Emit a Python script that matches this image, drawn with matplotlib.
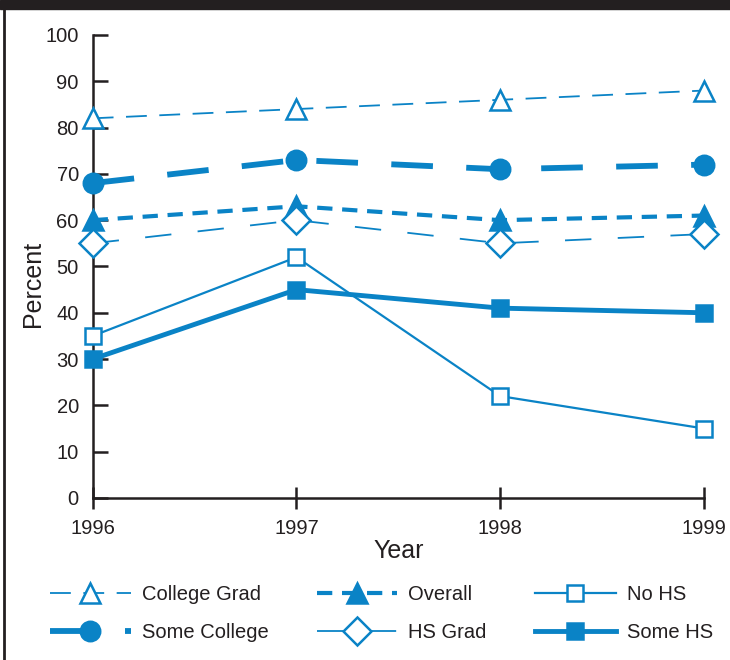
import matplotlib
matplotlib.use("Agg")
import matplotlib.pyplot as plt
from matplotlib.patches import Rectangle
from matplotlib.lines import Line2D

plt.rcParams["font.family"] = ["Liberation Sans", "DejaVu Sans"]
plt.rcParams["lines.scale_dashes"] = False

years = [1996, 1997, 1998, 1999]
college_grad = [82, 84, 86, 88]
some_college = [68, 73, 71, 72]
overall = [60, 63, 60, 61]
hs_grad = [55, 60, 55, 57]
no_hs = [35, 52, 22, 15]
some_hs = [30, 45, 41, 40]

blue = "#0a83c6"
ink = "#231f20"

fig = plt.figure(figsize=(7.3, 6.6), dpi=100)
ax = fig.add_axes([0.127, 0.2455, 0.8374, 0.7015])

# each series: values, label, line width, dashes, marker, size, filled
series = [
    (college_grad, "College Grad", 1.3, (15, 9), "^", 15, False),
    (some_college, "Some College", 4.2, (30, 24), "o", 14, True),
    (overall, "Overall", 3.0, (11, 7), "^", 15, True),
    (hs_grad, "HS Grad", 1.3, (19, 19), "D", 14, False),
    (no_hs, "No HS", 1.6, None, "s", 11, False),
    (some_hs, "Some HS", 3.5, None, "s", 11, True),
]

for vals, label, lw, dash, mk, ms, filled in series:
    kw = dict(color=blue, lw=lw, marker=mk, markersize=ms,
              markeredgecolor=blue, markeredgewidth=1.8,
              markerfacecolor=blue if filled else "white",
              label=label, clip_on=False, zorder=3)
    if dash is not None:
        kw["dashes"] = dash
    ax.plot(years, vals, **kw)

ax.set_xlim(1996, 1999)
ax.set_ylim(0, 100)
ax.set_xticks(years)
ax.set_yticks(range(0, 101, 10))
for s in ["top", "right"]:
    ax.spines[s].set_visible(False)
for s in ["left", "bottom"]:
    ax.spines[s].set_color(ink)
    ax.spines[s].set_linewidth(1.8)
ax.tick_params(axis="y", direction="in", length=11, width=1.8, color=ink,
               labelsize=14.5, labelcolor=ink, pad=10)
ax.tick_params(axis="x", direction="inout", length=16, width=1.8, color=ink,
               labelsize=14.5, labelcolor=ink, pad=7)
ax.set_xlabel("Year", fontsize=18, color=ink, labelpad=1)
ax.set_ylabel("Percent", fontsize=18, color=ink)
ax.yaxis.set_label_coords(-0.078, 0.462)

# black bar across the top and a rule down the left edge
fig.patches.append(Rectangle((0, 651 / 660), 1, 9 / 660, transform=fig.transFigure,
                             color="#231f20", zorder=0))
fig.lines.append(Line2D([4 / 730, 4 / 730], [0, 1], transform=fig.transFigure,
                        color=ink, lw=2))

handles, labels = ax.get_legend_handles_labels()
fig.legend(handles, labels, ncol=3, loc="upper left",
           bbox_to_anchor=(50 / 730, 1 - 585 / 660), frameon=False,
           fontsize=14.5, handlelength=4.0, handletextpad=0.55,
           columnspacing=2.4, labelspacing=0.93, borderpad=0,
           borderaxespad=0, labelcolor=ink)

fig.savefig("out.png", dpi=100)
